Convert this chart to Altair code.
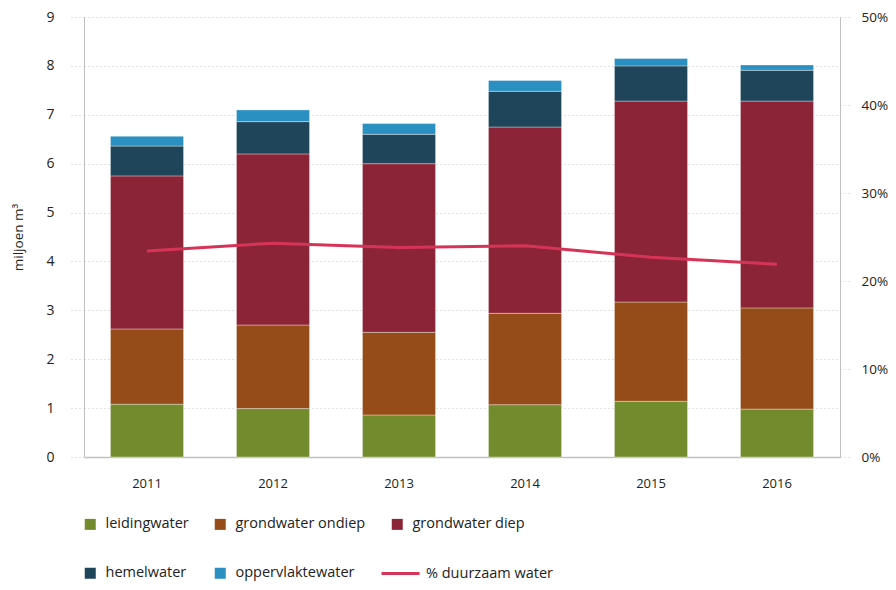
import altair as alt
import pandas as pd

years = ["2011", "2012", "2013", "2014", "2015", "2016"]
names = ["leidingwater", "grondwater ondiep", "grondwater diep", "hemelwater", "oppervlaktewater"]
leidingwater = [1.08, 0.99, 0.86, 1.07, 1.14, 0.98]
grondwater_ondiep = [1.54, 1.71, 1.69, 1.87, 2.03, 2.07]
grondwater_diep = [3.13, 3.50, 3.45, 3.81, 4.11, 4.23]
hemelwater = [0.61, 0.66, 0.60, 0.73, 0.72, 0.63]
oppervlaktewater = [0.20, 0.24, 0.22, 0.22, 0.15, 0.11]
duurzaam_pct = [23.4, 24.3, 23.8, 24.0, 22.7, 21.9]
colors = ["#728B2D", "#954C19", "#8C2437", "#1F455B", "#2A90C2"]
line_color = "#D63457"

series = [leidingwater, grondwater_ondiep, grondwater_diep, hemelwater, oppervlaktewater]
rows = []
for i, y in enumerate(years):
    for k, name in enumerate(names):
        rows.append({"jaar": y, "bron": name, "waarde": series[k][i], "volgorde": k})
bars_df = pd.DataFrame(rows)
line_df = pd.DataFrame({"jaar": years, "pct": [p / 100 for p in duurzaam_pct],
                        "reeks": ["% duurzaam water"] * len(years)})

grid_col = "#c4c4c4"
dom_col = "#c0c0c0"
txt_col = "#222222"

x_enc = alt.X("jaar:N", sort=years,
              scale=alt.Scale(paddingInner=0.42, paddingOuter=0.21),
              axis=alt.Axis(title=None, labelAngle=0, ticks=False, grid=False,
                            domainColor=dom_col, domainWidth=1.5,
                            labelPadding=20, labelFontSize=13, labelColor=txt_col))

bars = alt.Chart(bars_df).mark_bar(stroke="white", strokeOpacity=0.35, strokeWidth=1).encode(
    x=x_enc,
    y=alt.Y("waarde:Q", stack="zero", scale=alt.Scale(domain=[0, 9], nice=False),
            axis=alt.Axis(values=list(range(10)), title="miljoen m³", grid=True,
                          gridDash=[1, 3], gridColor=grid_col, tickDash=[1, 3],
                          tickSize=16, tickColor=grid_col, domainColor=dom_col,
                          labelPadding=14, labelFontSize=14, labelColor=txt_col,
                          labelOffset=0, titlePadding=20, titleFontSize=13.5,
                          titleFontWeight="normal", titleColor=txt_col)),
    color=alt.Color("bron:N", sort=names,
                    scale=alt.Scale(domain=names, range=colors),
                    legend=alt.Legend(title=None, orient="none", legendX=-1, legendY=500,
                                      direction="horizontal", columns=3,
                                      symbolType="square", symbolSize=121,
                                      columnPadding=24, rowPadding=34, labelFontSize=14.5,
                                      labelColor=txt_col, labelOffset=8,
                                      symbolStrokeWidth=0, symbolOpacity=1)),
    order=alt.Order("volgorde:Q", sort="ascending"),
)

line = alt.Chart(line_df).mark_line(strokeWidth=3).encode(
    x=alt.X("jaar:N", sort=years),
    y=alt.Y("pct:Q", scale=alt.Scale(domain=[0, 0.5], nice=False),
            axis=alt.Axis(orient="right", format=".0%", values=[0, 0.1, 0.2, 0.3, 0.4, 0.5],
                          grid=False, title=None, tickDash=[1, 3], tickSize=12,
                          tickColor=grid_col, domainColor=dom_col, labelPadding=9,
                          labelFontSize=13.5, labelColor=txt_col, labelOffset=0)),
    stroke=alt.Stroke("reeks:N", scale=alt.Scale(range=[line_color]),
                      legend=alt.Legend(title=None, orient="none", legendX=296, legendY=536,
                                        symbolType="stroke", symbolSize=1444,
                                        symbolStrokeWidth=3, labelFontSize=14.5,
                                        labelColor=txt_col, labelOffset=5)),
)

chart = alt.layer(bars, line).resolve_scale(y="independent").properties(
    width=756, height=440, autosize="none",
    padding={"left": 76, "top": 9, "right": 48, "bottom": 124},
).configure(font="Open Sans").configure_view(stroke=None)

chart.save("out.html", embed_options={"renderer": "svg", "actions": False})
